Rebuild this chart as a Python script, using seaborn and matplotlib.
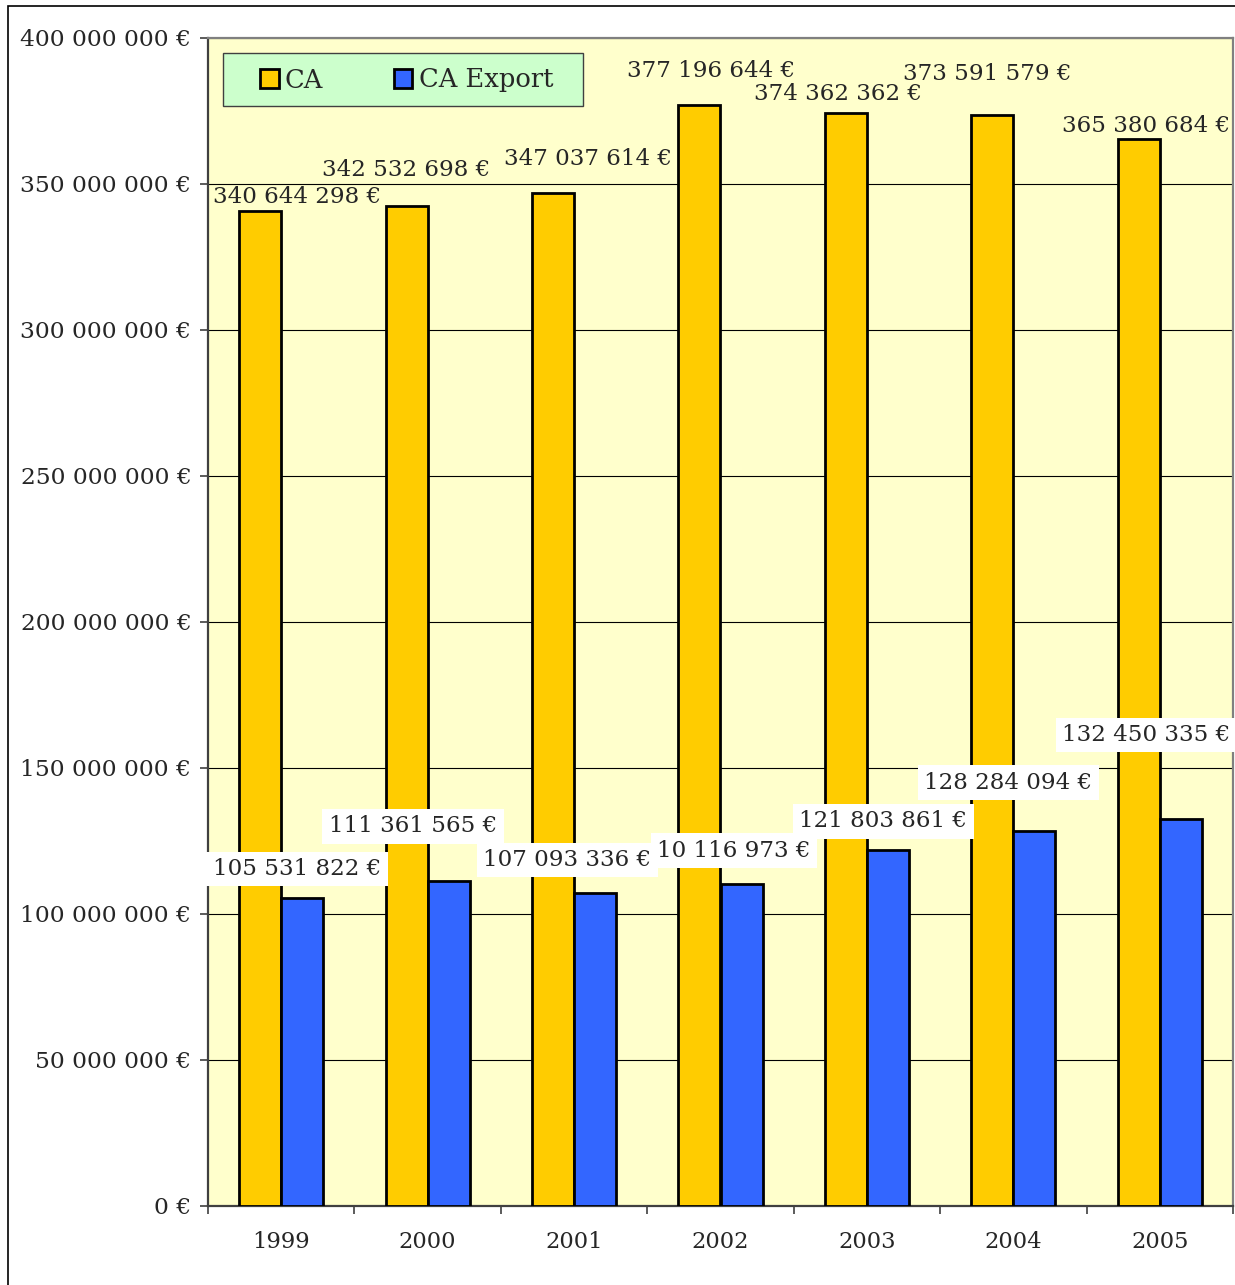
#CA vs CA Export per year - grouped bars with value labels
import pandas as pd
import seaborn as sns
import matplotlib.pyplot as plt
from matplotlib.ticker import FuncFormatter, FixedLocator
from matplotlib.patches import Rectangle

#data
years = ['1999', '2000', '2001', '2002', '2003', '2004', '2005']
ca = [340644298, 342532698, 347037614, 377196644, 374362362, 373591579, 365380684]
ca_export = [105531822, 111361565, 107093336, 110116973, 121803861, 128284094, 132450335]
# label texts as printed on the chart (2002 export label reads "10 116 973 €")
ca_labels = ['340 644 298 €', '342 532 698 €', '347 037 614 €', '377 196 644 €',
             '374 362 362 €', '373 591 579 €', '365 380 684 €']
export_labels = ['105 531 822 €', '111 361 565 €', '107 093 336 €', '10 116 973 €',
                 '121 803 861 €', '128 284 094 €', '132 450 335 €']
series_names = ['CA', 'CA Export']

#layout of the labels: x shift from group centre, y centre in millions
ca_label_dx = [0.108, -0.148, 0.096, -0.064, -0.197, -0.179, -0.093]
ca_label_y = [345.5, 354.8, 358.6, 388.7, 380.8, 387.7, 369.9]
export_label_dx = [0.108, -0.10, -0.048, 0.093, 0.111, -0.036, -0.093]
export_label_y = [115.4, 130.1, 118.5, 121.6, 131.8, 144.9, 161.3]


def build_frame() -> pd.DataFrame:
    """long format table for seaborn"""
    rows = []
    for i, y in enumerate(years):
        rows.append({'year': y, 'serie': series_names[0], 'value': ca[i]})
        rows.append({'year': y, 'serie': series_names[1], 'value': ca_export[i]})
    return pd.DataFrame(rows)


def euro(v, pos=None):
    return f"{v:,.0f}".replace(',', ' ') + " €"


if __name__ == "__main__":
    sns.set_style('white')
    plt.rcParams['font.family'] = ['DejaVu Serif']

    df = build_frame()

    fig = plt.figure(figsize=(12.35, 12.85), dpi=100)
    ax = fig.add_axes([208 / 1235, 1 - 1206 / 1285, 1025 / 1235, 1168 / 1285])
    ax.set_facecolor('#FFFFCC')

    sns.barplot(data=df, x='year', y='value', hue='serie', hue_order=series_names,
                palette=['#FFCC00', '#3366FF'], width=0.574, edgecolor='black',
                linewidth=2.0, saturation=1, ax=ax, zorder=3)

    ax.set_xlim(-0.5, 6.5)
    ax.set_ylim(0, 400e6)
    ax.set_xlabel('')
    ax.set_ylabel('')

    #y axis
    ax.yaxis.set_major_locator(FixedLocator([i * 50e6 for i in range(9)]))
    ax.yaxis.set_major_formatter(FuncFormatter(euro))
    ax.tick_params(axis='y', direction='out', length=6, width=1.2, color='#404040',
                   pad=6, labelsize=16.8, left=True)
    ax.grid(axis='y', color='black', linewidth=0.8, zorder=0)
    ax.set_axisbelow(True)

    #x axis: ticks at group boundaries, labels at centres
    ax.set_xticks([i - 0.5 for i in range(8)])
    ax.set_xticklabels([])
    ax.set_xticks(range(len(years)), minor=True)
    ax.set_xticklabels(years, minor=True)
    ax.tick_params(axis='x', which='major', direction='out', length=6, width=1.2,
                   color='#404040', bottom=True)
    ax.tick_params(axis='x', which='minor', length=0, pad=18, labelsize=16.3)

    for side in ['left', 'bottom']:
        ax.spines[side].set_color('#404040')
        ax.spines[side].set_linewidth(1.6)
    for side in ['top', 'right']:
        ax.spines[side].set_color('#808080')
        ax.spines[side].set_linewidth(1.6)

    #value labels
    for i in range(len(years)):
        ax.text(i + ca_label_dx[i], ca_label_y[i] * 1e6, ca_labels[i],
                ha='center', va='center', fontsize=16.6, zorder=5)
        ax.text(i + export_label_dx[i], export_label_y[i] * 1e6, export_labels[i],
                ha='center', va='center', fontsize=16.6, zorder=5,
                bbox=dict(boxstyle='square,pad=0.28', facecolor='white', edgecolor='none'))

    #legend: box drawn separately so the padding can be uneven
    ax.add_patch(Rectangle((15 / 1025, 1 - 68 / 1168), 360 / 1025, 53 / 1168,
                           transform=ax.transAxes, facecolor='#CCFFCC',
                           edgecolor='#404040', linewidth=1.0, zorder=6))
    handles, labels = ax.get_legend_handles_labels()
    ax.get_legend().remove()
    leg = ax.legend(handles, labels, loc='center left', ncol=2,
                    bbox_to_anchor=(52 / 1025, 1 - 42 / 1168),
                    borderaxespad=0, borderpad=0, fontsize=18.5, handlelength=0.72,
                    handleheight=0.72, handletextpad=0.25, columnspacing=2.75,
                    frameon=False)
    leg.set_zorder(7)

    #outer frame of the picture
    fig.patches.append(Rectangle((8 / 1235, -0.01), 1.02, 1 - 6 / 1285 + 0.01,
                                 transform=fig.transFigure, fill=False,
                                 edgecolor='black', linewidth=1.2))

    fig.savefig('out.png', dpi=100)
